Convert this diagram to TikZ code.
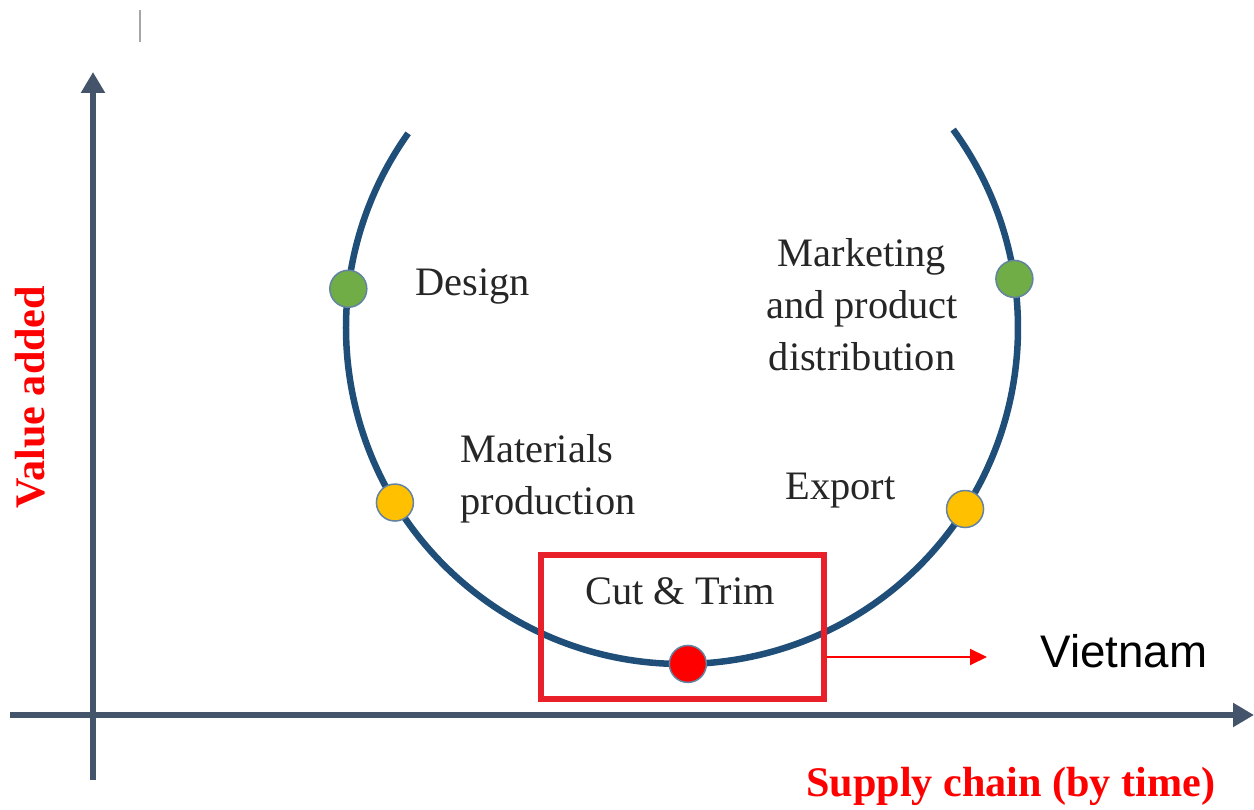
\documentclass[tikz,border=0pt]{standalone}
\usepackage{fontspec}
\setmainfont{Liberation Serif}
\newfontfamily\arialfont{Liberation Sans}
\usetikzlibrary{arrows.meta,calc}
\definecolor{axiscol}{RGB}{68,84,106}
\definecolor{arccol}{RGB}{31,78,121}
\definecolor{dotgreen}{RGB}{112,173,71}
\definecolor{dotyellow}{RGB}{255,192,0}
\definecolor{boxred}{RGB}{232,32,42}
\definecolor{labred}{RGB}{255,0,0}
\begin{document}
\begin{tikzpicture}[x=0.02cm,y=0.02cm,
  axisline/.style={draw=axiscol,line width=0.12cm,-{Triangle[length=0.42cm,width=0.46cm]}},
  arcline/.style={draw=arccol,line width=0.13cm},
  dot/.style={circle,draw=arccol!70,line width=0.03cm,minimum size=0.74cm,inner sep=0pt},
  lab/.style={inner sep=0pt,font=\fontsize{23}{29.6}\selectfont,text=black!85},
  axlab/.style={inner sep=0pt,font=\fontsize{24}{28}\selectfont\bfseries,text=labred},
  redbox/.style={draw=boxred,line width=0.11cm,minimum width=5.66cm,minimum height=2.88cm,inner sep=0pt},
  redarrow/.style={draw=labred,line width=0.04cm,-{Triangle[length=0.34cm,width=0.32cm]}}
]
\useasboundingbox (0,0) rectangle (1254,810);
% small gray tick
\coordinate (t1) at (140,800);
\coordinate (t2) at (140,768);
\draw[gray!70,line width=0.04cm] (t1) -- (t2);
% axes
\coordinate (yb) at (93,30);
\coordinate (yt) at (93,738);
\coordinate (xl) at (10,95);
\coordinate (xr) at (1254,95);
\draw[axisline] (yb) -- (yt);
\draw[axisline] (xl) -- (xr);
% arc
\coordinate (c) at (682,482);
\draw[arcline] ($(c)+(144.6:336)$) arc[start angle=144.6,end angle=396.2,radius=336];
% red box
\node[redbox] (cutbox) at (682.5,183) {};
% dots
\node[dot,fill=dotgreen] (design) at ($(c)+(173.3:336)$) {};
\node[dot,fill=dotgreen] (market) at ($(c)+(8.4:336)$) {};
\node[dot,fill=dotyellow] (mat) at ($(c)+(211.3:336)$) {};
\node[dot,fill=dotyellow] (export) at ($(c)+(327.4:336)$) {};
\node[dot,fill=labred] (cut) at ($(c)+(271:336)$) {};
% labels
\node[lab,anchor=base west] (tdesign) at (415,514) {Design};
\node[lab,align=center] (tmarket) at (862,505) {Marketing\\and product\\distribution};
\node[lab,align=left,anchor=west] (tmat) at (460,331) {Materials\\production};
\node[lab,anchor=base west] (texport) at (785,310) {Export};
\node[lab,anchor=base west] (tcut) at (585,205) {Cut \& Trim};
% Vietnam arrow
\coordinate (vt) at (987,153);
\draw[redarrow] (cutbox.east |- vt) -- (vt);
\node[inner sep=0pt,anchor=base west,font=\arialfont\fontsize{26}{30}\selectfont] (viet) at (1040,142) {Vietnam};
% axis labels
\node[axlab,rotate=90] (vlab) at (30,413) {Value added};
\node[axlab,anchor=base west] (slab) at (806,13) {Supply chain (by time)};
\end{tikzpicture}
\end{document}
